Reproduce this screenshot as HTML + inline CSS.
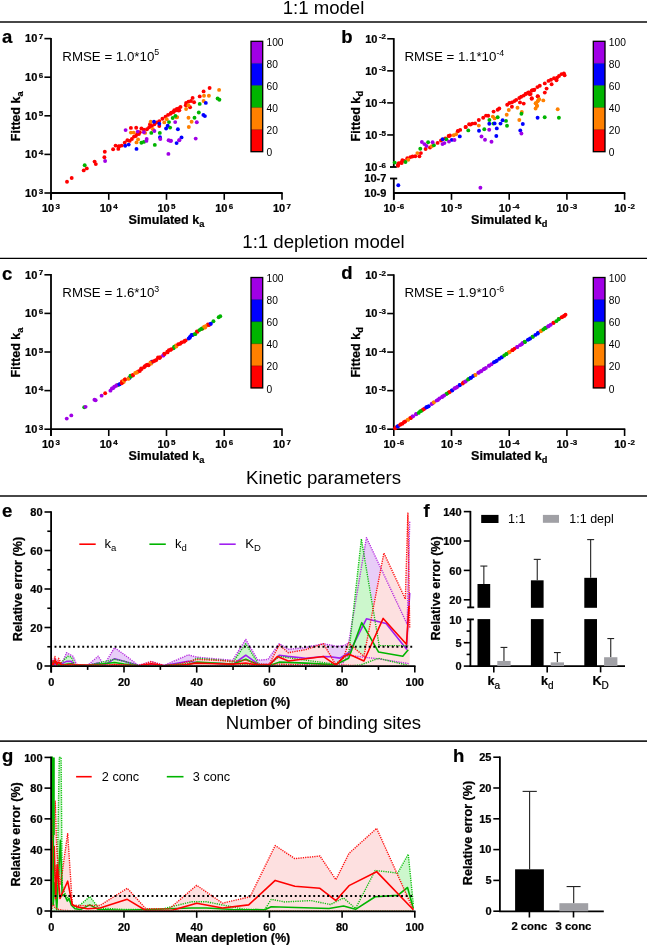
<!DOCTYPE html>
<html><head><meta charset="utf-8"><style>
html,body{margin:0;padding:0;background:#fff;}
svg{display:block;filter:blur(0.4px);}
text[font-weight="bold"]{stroke:#000;stroke-width:0.22px;}
</style></head><body>
<svg width="647" height="945" viewBox="0 0 647 945" font-family="Liberation Sans, sans-serif">
<rect width="647" height="945" fill="#fff"/>
<text x="323.50" y="13.60" font-size="18.6" font-weight="normal" text-anchor="middle" fill="#000" >1:1 model</text>
<line x1="0.00" y1="22.00" x2="647.00" y2="22.00" stroke="#474747" stroke-width="2.0" />
<text x="323.50" y="248.20" font-size="18.6" font-weight="normal" text-anchor="middle" fill="#000" >1:1 depletion model</text>
<line x1="0.00" y1="258.40" x2="647.00" y2="258.40" stroke="#000" stroke-width="1.4" />
<text x="323.50" y="484.10" font-size="18.6" font-weight="normal" text-anchor="middle" fill="#000" >Kinetic parameters</text>
<line x1="0.00" y1="496.00" x2="647.00" y2="496.00" stroke="#474747" stroke-width="2.0" />
<text x="323.50" y="729.10" font-size="18.6" font-weight="normal" text-anchor="middle" fill="#000" >Number of binding sites</text>
<line x1="0.00" y1="741.20" x2="647.00" y2="741.20" stroke="#222" stroke-width="1.7" />
<text x="2.00" y="42.60" font-size="18.5" font-weight="bold" text-anchor="start" fill="#000" >a</text>
<line x1="51.00" y1="37.90" x2="51.00" y2="199.80" stroke="#000" stroke-width="1.8" />
<line x1="50.20" y1="193.00" x2="282.70" y2="193.00" stroke="#000" stroke-width="1.8" />
<line x1="44.40" y1="38.60" x2="51.00" y2="38.60" stroke="#000" stroke-width="1.6" />
<text x="43.20" y="42.40" font-size="11.0" font-weight="bold" text-anchor="end">10<tspan font-size="8.0" dy="-3.2" dx="1.4">7</tspan></text>
<line x1="44.40" y1="77.20" x2="51.00" y2="77.20" stroke="#000" stroke-width="1.6" />
<text x="43.20" y="81.00" font-size="11.0" font-weight="bold" text-anchor="end">10<tspan font-size="8.0" dy="-3.2" dx="1.4">6</tspan></text>
<line x1="44.40" y1="115.80" x2="51.00" y2="115.80" stroke="#000" stroke-width="1.6" />
<text x="43.20" y="119.60" font-size="11.0" font-weight="bold" text-anchor="end">10<tspan font-size="8.0" dy="-3.2" dx="1.4">5</tspan></text>
<line x1="44.40" y1="154.40" x2="51.00" y2="154.40" stroke="#000" stroke-width="1.6" />
<text x="43.20" y="158.20" font-size="11.0" font-weight="bold" text-anchor="end">10<tspan font-size="8.0" dy="-3.2" dx="1.4">4</tspan></text>
<line x1="44.40" y1="193.00" x2="51.00" y2="193.00" stroke="#000" stroke-width="1.6" />
<text x="43.20" y="196.80" font-size="11.0" font-weight="bold" text-anchor="end">10<tspan font-size="8.0" dy="-3.2" dx="1.4">3</tspan></text>
<line x1="51.00" y1="193.00" x2="51.00" y2="199.80" stroke="#000" stroke-width="1.6" />
<text x="51.00" y="212.00" font-size="11.0" font-weight="bold" text-anchor="middle">10<tspan font-size="8.0" dy="-3.2" dx="1.4">3</tspan></text>
<line x1="108.75" y1="193.00" x2="108.75" y2="199.80" stroke="#000" stroke-width="1.6" />
<text x="108.75" y="212.00" font-size="11.0" font-weight="bold" text-anchor="middle">10<tspan font-size="8.0" dy="-3.2" dx="1.4">4</tspan></text>
<line x1="166.50" y1="193.00" x2="166.50" y2="199.80" stroke="#000" stroke-width="1.6" />
<text x="166.50" y="212.00" font-size="11.0" font-weight="bold" text-anchor="middle">10<tspan font-size="8.0" dy="-3.2" dx="1.4">5</tspan></text>
<line x1="224.25" y1="193.00" x2="224.25" y2="199.80" stroke="#000" stroke-width="1.6" />
<text x="224.25" y="212.00" font-size="11.0" font-weight="bold" text-anchor="middle">10<tspan font-size="8.0" dy="-3.2" dx="1.4">6</tspan></text>
<line x1="282.00" y1="193.00" x2="282.00" y2="199.80" stroke="#000" stroke-width="1.6" />
<text x="282.00" y="212.00" font-size="11.0" font-weight="bold" text-anchor="middle">10<tspan font-size="8.0" dy="-3.2" dx="1.4">7</tspan></text>
<text x="166.50" y="223.80" font-size="12.6" font-weight="bold" text-anchor="middle">Simulated k<tspan font-size="9.2" dy="2.8">a</tspan></text>
<text transform="translate(20.3,116.30) rotate(-90)" font-size="12.6" font-weight="bold" text-anchor="middle">Fitted k<tspan font-size="9.2" dy="2.8">a</tspan></text>
<text x="62.3" y="60.70" font-size="13.3">RMSE = 1.0*10<tspan font-size="8.8" dy="-5.3">5</tspan></text>
<rect x="251.00" y="41.30" width="11.70" height="22.38" fill="#a000e6" />
<rect x="251.00" y="63.38" width="11.70" height="22.38" fill="#0000ff" />
<rect x="251.00" y="85.46" width="11.70" height="22.38" fill="#00b400" />
<rect x="251.00" y="107.54" width="11.70" height="22.38" fill="#ff8000" />
<rect x="251.00" y="129.62" width="11.70" height="22.38" fill="#ff0000" />
<line x1="251.00" y1="63.38" x2="262.70" y2="63.38" stroke="#000" stroke-width="0.7" stroke-opacity="0.35"/>
<line x1="251.00" y1="85.46" x2="262.70" y2="85.46" stroke="#000" stroke-width="0.7" stroke-opacity="0.35"/>
<line x1="251.00" y1="107.54" x2="262.70" y2="107.54" stroke="#000" stroke-width="0.7" stroke-opacity="0.35"/>
<line x1="251.00" y1="129.62" x2="262.70" y2="129.62" stroke="#000" stroke-width="0.7" stroke-opacity="0.35"/>
<rect x="251.00" y="41.30" width="11.7" height="110.40" fill="none" stroke="#000" stroke-width="1.3"/>
<text transform="translate(266.50,45.90) scale(0.93,1)" font-size="11">100</text>
<text transform="translate(266.50,67.98) scale(0.93,1)" font-size="11">80</text>
<text transform="translate(266.50,90.06) scale(0.93,1)" font-size="11">60</text>
<text transform="translate(266.50,112.14) scale(0.93,1)" font-size="11">40</text>
<text transform="translate(266.50,134.22) scale(0.93,1)" font-size="11">20</text>
<text transform="translate(266.50,156.30) scale(0.93,1)" font-size="11">0</text>
<text x="2.00" y="279.70" font-size="18.5" font-weight="bold" text-anchor="start" fill="#000" >c</text>
<line x1="51.00" y1="274.10" x2="51.00" y2="436.00" stroke="#000" stroke-width="1.8" />
<line x1="50.20" y1="429.20" x2="282.70" y2="429.20" stroke="#000" stroke-width="1.8" />
<line x1="44.40" y1="274.80" x2="51.00" y2="274.80" stroke="#000" stroke-width="1.6" />
<text x="43.20" y="278.60" font-size="11.0" font-weight="bold" text-anchor="end">10<tspan font-size="8.0" dy="-3.2" dx="1.4">7</tspan></text>
<line x1="44.40" y1="313.40" x2="51.00" y2="313.40" stroke="#000" stroke-width="1.6" />
<text x="43.20" y="317.20" font-size="11.0" font-weight="bold" text-anchor="end">10<tspan font-size="8.0" dy="-3.2" dx="1.4">6</tspan></text>
<line x1="44.40" y1="352.00" x2="51.00" y2="352.00" stroke="#000" stroke-width="1.6" />
<text x="43.20" y="355.80" font-size="11.0" font-weight="bold" text-anchor="end">10<tspan font-size="8.0" dy="-3.2" dx="1.4">5</tspan></text>
<line x1="44.40" y1="390.60" x2="51.00" y2="390.60" stroke="#000" stroke-width="1.6" />
<text x="43.20" y="394.40" font-size="11.0" font-weight="bold" text-anchor="end">10<tspan font-size="8.0" dy="-3.2" dx="1.4">4</tspan></text>
<line x1="44.40" y1="429.20" x2="51.00" y2="429.20" stroke="#000" stroke-width="1.6" />
<text x="43.20" y="433.00" font-size="11.0" font-weight="bold" text-anchor="end">10<tspan font-size="8.0" dy="-3.2" dx="1.4">3</tspan></text>
<line x1="51.00" y1="429.20" x2="51.00" y2="436.00" stroke="#000" stroke-width="1.6" />
<text x="51.00" y="448.20" font-size="11.0" font-weight="bold" text-anchor="middle">10<tspan font-size="8.0" dy="-3.2" dx="1.4">3</tspan></text>
<line x1="108.75" y1="429.20" x2="108.75" y2="436.00" stroke="#000" stroke-width="1.6" />
<text x="108.75" y="448.20" font-size="11.0" font-weight="bold" text-anchor="middle">10<tspan font-size="8.0" dy="-3.2" dx="1.4">4</tspan></text>
<line x1="166.50" y1="429.20" x2="166.50" y2="436.00" stroke="#000" stroke-width="1.6" />
<text x="166.50" y="448.20" font-size="11.0" font-weight="bold" text-anchor="middle">10<tspan font-size="8.0" dy="-3.2" dx="1.4">5</tspan></text>
<line x1="224.25" y1="429.20" x2="224.25" y2="436.00" stroke="#000" stroke-width="1.6" />
<text x="224.25" y="448.20" font-size="11.0" font-weight="bold" text-anchor="middle">10<tspan font-size="8.0" dy="-3.2" dx="1.4">6</tspan></text>
<line x1="282.00" y1="429.20" x2="282.00" y2="436.00" stroke="#000" stroke-width="1.6" />
<text x="282.00" y="448.20" font-size="11.0" font-weight="bold" text-anchor="middle">10<tspan font-size="8.0" dy="-3.2" dx="1.4">7</tspan></text>
<text x="166.50" y="460.00" font-size="12.6" font-weight="bold" text-anchor="middle">Simulated k<tspan font-size="9.2" dy="2.8">a</tspan></text>
<text transform="translate(20.3,352.50) rotate(-90)" font-size="12.6" font-weight="bold" text-anchor="middle">Fitted k<tspan font-size="9.2" dy="2.8">a</tspan></text>
<text x="62.3" y="296.90" font-size="13.3">RMSE = 1.6*10<tspan font-size="8.8" dy="-5.3">3</tspan></text>
<rect x="251.00" y="277.50" width="11.70" height="22.38" fill="#a000e6" />
<rect x="251.00" y="299.58" width="11.70" height="22.38" fill="#0000ff" />
<rect x="251.00" y="321.66" width="11.70" height="22.38" fill="#00b400" />
<rect x="251.00" y="343.74" width="11.70" height="22.38" fill="#ff8000" />
<rect x="251.00" y="365.82" width="11.70" height="22.38" fill="#ff0000" />
<line x1="251.00" y1="299.58" x2="262.70" y2="299.58" stroke="#000" stroke-width="0.7" stroke-opacity="0.35"/>
<line x1="251.00" y1="321.66" x2="262.70" y2="321.66" stroke="#000" stroke-width="0.7" stroke-opacity="0.35"/>
<line x1="251.00" y1="343.74" x2="262.70" y2="343.74" stroke="#000" stroke-width="0.7" stroke-opacity="0.35"/>
<line x1="251.00" y1="365.82" x2="262.70" y2="365.82" stroke="#000" stroke-width="0.7" stroke-opacity="0.35"/>
<rect x="251.00" y="277.50" width="11.7" height="110.40" fill="none" stroke="#000" stroke-width="1.3"/>
<text transform="translate(266.50,282.10) scale(0.93,1)" font-size="11">100</text>
<text transform="translate(266.50,304.18) scale(0.93,1)" font-size="11">80</text>
<text transform="translate(266.50,326.26) scale(0.93,1)" font-size="11">60</text>
<text transform="translate(266.50,348.34) scale(0.93,1)" font-size="11">40</text>
<text transform="translate(266.50,370.42) scale(0.93,1)" font-size="11">20</text>
<text transform="translate(266.50,392.50) scale(0.93,1)" font-size="11">0</text>
<text x="341.30" y="42.90" font-size="18.5" font-weight="bold" text-anchor="start" fill="#000" >b</text>
<line x1="393.80" y1="38.10" x2="393.80" y2="167.00" stroke="#000" stroke-width="1.8" />
<line x1="390.00" y1="167.00" x2="396.80" y2="167.00" stroke="#000" stroke-width="1.8" />
<line x1="393.80" y1="178.50" x2="393.80" y2="199.80" stroke="#000" stroke-width="1.8" />
<line x1="390.00" y1="178.50" x2="397.20" y2="178.50" stroke="#000" stroke-width="1.8" />
<line x1="393.80" y1="193.00" x2="625.30" y2="193.00" stroke="#000" stroke-width="1.8" />
<line x1="387.20" y1="38.80" x2="393.80" y2="38.80" stroke="#000" stroke-width="1.6" />
<text x="386.00" y="42.60" font-size="11.0" font-weight="bold" text-anchor="end">10<tspan font-size="8.0" dy="-3.2" dx="1.4">-2</tspan></text>
<line x1="387.20" y1="70.85" x2="393.80" y2="70.85" stroke="#000" stroke-width="1.6" />
<text x="386.00" y="74.65" font-size="11.0" font-weight="bold" text-anchor="end">10<tspan font-size="8.0" dy="-3.2" dx="1.4">-3</tspan></text>
<line x1="387.20" y1="102.90" x2="393.80" y2="102.90" stroke="#000" stroke-width="1.6" />
<text x="386.00" y="106.70" font-size="11.0" font-weight="bold" text-anchor="end">10<tspan font-size="8.0" dy="-3.2" dx="1.4">-4</tspan></text>
<line x1="387.20" y1="134.95" x2="393.80" y2="134.95" stroke="#000" stroke-width="1.6" />
<text x="386.00" y="138.75" font-size="11.0" font-weight="bold" text-anchor="end">10<tspan font-size="8.0" dy="-3.2" dx="1.4">-5</tspan></text>
<text x="386.00" y="170.80" font-size="11.0" font-weight="bold" text-anchor="end">10<tspan font-size="8.0" dy="-3.2" dx="1.4">-6</tspan></text>
<text x="386.40" y="182.20" font-size="11.0" font-weight="bold" text-anchor="end" fill="#000" >10-7</text>
<text x="386.40" y="196.90" font-size="11.0" font-weight="bold" text-anchor="end" fill="#000" >10-9</text>
<line x1="393.80" y1="193.00" x2="393.80" y2="199.80" stroke="#000" stroke-width="1.6" />
<text x="393.80" y="212.00" font-size="11.0" font-weight="bold" text-anchor="middle">10<tspan font-size="8.0" dy="-3.2" dx="1.4">-6</tspan></text>
<line x1="451.50" y1="193.00" x2="451.50" y2="199.80" stroke="#000" stroke-width="1.6" />
<text x="451.50" y="212.00" font-size="11.0" font-weight="bold" text-anchor="middle">10<tspan font-size="8.0" dy="-3.2" dx="1.4">-5</tspan></text>
<line x1="509.20" y1="193.00" x2="509.20" y2="199.80" stroke="#000" stroke-width="1.6" />
<text x="509.20" y="212.00" font-size="11.0" font-weight="bold" text-anchor="middle">10<tspan font-size="8.0" dy="-3.2" dx="1.4">-4</tspan></text>
<line x1="566.90" y1="193.00" x2="566.90" y2="199.80" stroke="#000" stroke-width="1.6" />
<text x="566.90" y="212.00" font-size="11.0" font-weight="bold" text-anchor="middle">10<tspan font-size="8.0" dy="-3.2" dx="1.4">-3</tspan></text>
<line x1="624.60" y1="193.00" x2="624.60" y2="199.80" stroke="#000" stroke-width="1.6" />
<text x="624.60" y="212.00" font-size="11.0" font-weight="bold" text-anchor="middle">10<tspan font-size="8.0" dy="-3.2" dx="1.4">-2</tspan></text>
<text x="509.20" y="223.80" font-size="12.6" font-weight="bold" text-anchor="middle">Simulated k<tspan font-size="9.2" dy="2.8">d</tspan></text>
<text transform="translate(360.3,116.20) rotate(-90)" font-size="12.6" font-weight="bold" text-anchor="middle">Fitted k<tspan font-size="9.2" dy="2.8">d</tspan></text>
<text x="404.4" y="60.80" font-size="13.3">RMSE = 1.1*10<tspan font-size="8.8" dy="-5.3">-4</tspan></text>
<rect x="593.30" y="41.30" width="11.70" height="22.38" fill="#a000e6" />
<rect x="593.30" y="63.38" width="11.70" height="22.38" fill="#0000ff" />
<rect x="593.30" y="85.46" width="11.70" height="22.38" fill="#00b400" />
<rect x="593.30" y="107.54" width="11.70" height="22.38" fill="#ff8000" />
<rect x="593.30" y="129.62" width="11.70" height="22.38" fill="#ff0000" />
<line x1="593.30" y1="63.38" x2="605.00" y2="63.38" stroke="#000" stroke-width="0.7" stroke-opacity="0.35"/>
<line x1="593.30" y1="85.46" x2="605.00" y2="85.46" stroke="#000" stroke-width="0.7" stroke-opacity="0.35"/>
<line x1="593.30" y1="107.54" x2="605.00" y2="107.54" stroke="#000" stroke-width="0.7" stroke-opacity="0.35"/>
<line x1="593.30" y1="129.62" x2="605.00" y2="129.62" stroke="#000" stroke-width="0.7" stroke-opacity="0.35"/>
<rect x="593.30" y="41.30" width="11.7" height="110.40" fill="none" stroke="#000" stroke-width="1.3"/>
<text transform="translate(608.80,45.90) scale(0.93,1)" font-size="11">100</text>
<text transform="translate(608.80,67.98) scale(0.93,1)" font-size="11">80</text>
<text transform="translate(608.80,90.06) scale(0.93,1)" font-size="11">60</text>
<text transform="translate(608.80,112.14) scale(0.93,1)" font-size="11">40</text>
<text transform="translate(608.80,134.22) scale(0.93,1)" font-size="11">20</text>
<text transform="translate(608.80,156.30) scale(0.93,1)" font-size="11">0</text>
<text x="341.30" y="279.10" font-size="18.5" font-weight="bold" text-anchor="start" fill="#000" >d</text>
<line x1="393.80" y1="274.30" x2="393.80" y2="430.00" stroke="#000" stroke-width="1.8" />
<line x1="393.00" y1="429.20" x2="625.30" y2="429.20" stroke="#000" stroke-width="1.8" />
<line x1="387.20" y1="275.00" x2="393.80" y2="275.00" stroke="#000" stroke-width="1.6" />
<text x="386.00" y="278.80" font-size="11.0" font-weight="bold" text-anchor="end">10<tspan font-size="8.0" dy="-3.2" dx="1.4">-2</tspan></text>
<line x1="387.20" y1="313.55" x2="393.80" y2="313.55" stroke="#000" stroke-width="1.6" />
<text x="386.00" y="317.35" font-size="11.0" font-weight="bold" text-anchor="end">10<tspan font-size="8.0" dy="-3.2" dx="1.4">-3</tspan></text>
<line x1="387.20" y1="352.10" x2="393.80" y2="352.10" stroke="#000" stroke-width="1.6" />
<text x="386.00" y="355.90" font-size="11.0" font-weight="bold" text-anchor="end">10<tspan font-size="8.0" dy="-3.2" dx="1.4">-4</tspan></text>
<line x1="387.20" y1="390.65" x2="393.80" y2="390.65" stroke="#000" stroke-width="1.6" />
<text x="386.00" y="394.45" font-size="11.0" font-weight="bold" text-anchor="end">10<tspan font-size="8.0" dy="-3.2" dx="1.4">-5</tspan></text>
<line x1="387.20" y1="429.20" x2="393.80" y2="429.20" stroke="#000" stroke-width="1.6" />
<text x="386.00" y="433.00" font-size="11.0" font-weight="bold" text-anchor="end">10<tspan font-size="8.0" dy="-3.2" dx="1.4">-6</tspan></text>
<line x1="393.80" y1="429.20" x2="393.80" y2="436.00" stroke="#000" stroke-width="1.6" />
<text x="393.80" y="448.20" font-size="11.0" font-weight="bold" text-anchor="middle">10<tspan font-size="8.0" dy="-3.2" dx="1.4">-6</tspan></text>
<line x1="451.50" y1="429.20" x2="451.50" y2="436.00" stroke="#000" stroke-width="1.6" />
<text x="451.50" y="448.20" font-size="11.0" font-weight="bold" text-anchor="middle">10<tspan font-size="8.0" dy="-3.2" dx="1.4">-5</tspan></text>
<line x1="509.20" y1="429.20" x2="509.20" y2="436.00" stroke="#000" stroke-width="1.6" />
<text x="509.20" y="448.20" font-size="11.0" font-weight="bold" text-anchor="middle">10<tspan font-size="8.0" dy="-3.2" dx="1.4">-4</tspan></text>
<line x1="566.90" y1="429.20" x2="566.90" y2="436.00" stroke="#000" stroke-width="1.6" />
<text x="566.90" y="448.20" font-size="11.0" font-weight="bold" text-anchor="middle">10<tspan font-size="8.0" dy="-3.2" dx="1.4">-3</tspan></text>
<line x1="624.60" y1="429.20" x2="624.60" y2="436.00" stroke="#000" stroke-width="1.6" />
<text x="624.60" y="448.20" font-size="11.0" font-weight="bold" text-anchor="middle">10<tspan font-size="8.0" dy="-3.2" dx="1.4">-2</tspan></text>
<text x="509.20" y="460.00" font-size="12.6" font-weight="bold" text-anchor="middle">Simulated k<tspan font-size="9.2" dy="2.8">d</tspan></text>
<text transform="translate(360.3,352.40) rotate(-90)" font-size="12.6" font-weight="bold" text-anchor="middle">Fitted k<tspan font-size="9.2" dy="2.8">d</tspan></text>
<text x="404.4" y="297.00" font-size="13.3">RMSE = 1.9*10<tspan font-size="8.8" dy="-5.3">-6</tspan></text>
<rect x="593.30" y="277.50" width="11.70" height="22.38" fill="#a000e6" />
<rect x="593.30" y="299.58" width="11.70" height="22.38" fill="#0000ff" />
<rect x="593.30" y="321.66" width="11.70" height="22.38" fill="#00b400" />
<rect x="593.30" y="343.74" width="11.70" height="22.38" fill="#ff8000" />
<rect x="593.30" y="365.82" width="11.70" height="22.38" fill="#ff0000" />
<line x1="593.30" y1="299.58" x2="605.00" y2="299.58" stroke="#000" stroke-width="0.7" stroke-opacity="0.35"/>
<line x1="593.30" y1="321.66" x2="605.00" y2="321.66" stroke="#000" stroke-width="0.7" stroke-opacity="0.35"/>
<line x1="593.30" y1="343.74" x2="605.00" y2="343.74" stroke="#000" stroke-width="0.7" stroke-opacity="0.35"/>
<line x1="593.30" y1="365.82" x2="605.00" y2="365.82" stroke="#000" stroke-width="0.7" stroke-opacity="0.35"/>
<rect x="593.30" y="277.50" width="11.7" height="110.40" fill="none" stroke="#000" stroke-width="1.3"/>
<text transform="translate(608.80,282.10) scale(0.93,1)" font-size="11">100</text>
<text transform="translate(608.80,304.18) scale(0.93,1)" font-size="11">80</text>
<text transform="translate(608.80,326.26) scale(0.93,1)" font-size="11">60</text>
<text transform="translate(608.80,348.34) scale(0.93,1)" font-size="11">40</text>
<text transform="translate(608.80,370.42) scale(0.93,1)" font-size="11">20</text>
<text transform="translate(608.80,392.50) scale(0.93,1)" font-size="11">0</text>
<circle cx="67.00" cy="181.80" r="1.95" fill="#ff0000"/>
<circle cx="71.70" cy="178.00" r="1.95" fill="#ff0000"/>
<circle cx="86.80" cy="168.40" r="1.95" fill="#ff0000"/>
<circle cx="83.70" cy="170.40" r="1.95" fill="#ff0000"/>
<circle cx="94.60" cy="161.60" r="1.95" fill="#ff0000"/>
<circle cx="95.80" cy="164.10" r="1.95" fill="#ff0000"/>
<circle cx="104.80" cy="151.70" r="1.95" fill="#ff0000"/>
<circle cx="104.40" cy="157.30" r="1.95" fill="#ff0000"/>
<circle cx="113.10" cy="149.30" r="1.95" fill="#ff0000"/>
<circle cx="115.60" cy="145.60" r="1.95" fill="#ff0000"/>
<circle cx="118.30" cy="148.90" r="1.95" fill="#ff0000"/>
<circle cx="119.30" cy="146.20" r="1.95" fill="#ff0000"/>
<circle cx="121.70" cy="145.60" r="1.95" fill="#ff0000"/>
<circle cx="118.50" cy="146.50" r="1.95" fill="#ff0000"/>
<circle cx="124.70" cy="142.80" r="1.95" fill="#ff0000"/>
<circle cx="127.40" cy="140.30" r="1.95" fill="#ff0000"/>
<circle cx="129.70" cy="140.90" r="1.95" fill="#ff0000"/>
<circle cx="131.90" cy="139.00" r="1.95" fill="#ff0000"/>
<circle cx="134.00" cy="136.60" r="1.95" fill="#ff0000"/>
<circle cx="135.80" cy="136.00" r="1.95" fill="#ff0000"/>
<circle cx="137.10" cy="134.10" r="1.95" fill="#ff0000"/>
<circle cx="138.90" cy="134.10" r="1.95" fill="#ff0000"/>
<circle cx="139.80" cy="132.20" r="1.95" fill="#ff0000"/>
<circle cx="141.40" cy="128.50" r="1.95" fill="#ff0000"/>
<circle cx="143.90" cy="129.80" r="1.95" fill="#ff0000"/>
<circle cx="147.00" cy="129.20" r="1.95" fill="#ff0000"/>
<circle cx="149.20" cy="127.30" r="1.95" fill="#ff0000"/>
<circle cx="150.00" cy="124.20" r="1.95" fill="#ff0000"/>
<circle cx="151.90" cy="126.10" r="1.95" fill="#ff0000"/>
<circle cx="154.40" cy="124.20" r="1.95" fill="#ff0000"/>
<circle cx="156.90" cy="122.40" r="1.95" fill="#ff0000"/>
<circle cx="159.30" cy="121.10" r="1.95" fill="#ff0000"/>
<circle cx="162.40" cy="118.70" r="1.95" fill="#ff0000"/>
<circle cx="165.50" cy="116.80" r="1.95" fill="#ff0000"/>
<circle cx="168.00" cy="114.90" r="1.95" fill="#ff0000"/>
<circle cx="170.50" cy="113.70" r="1.95" fill="#ff0000"/>
<circle cx="173.50" cy="111.90" r="1.95" fill="#ff0000"/>
<circle cx="175.40" cy="110.60" r="1.95" fill="#ff0000"/>
<circle cx="178.50" cy="110.60" r="1.95" fill="#ff0000"/>
<circle cx="130.90" cy="127.90" r="1.95" fill="#ff0000"/>
<circle cx="136.20" cy="127.70" r="1.95" fill="#ff0000"/>
<circle cx="159.30" cy="126.10" r="1.95" fill="#ff0000"/>
<circle cx="209.60" cy="88.00" r="1.95" fill="#ff0000"/>
<circle cx="203.60" cy="91.40" r="1.95" fill="#ff0000"/>
<circle cx="199.70" cy="96.40" r="1.95" fill="#ff0000"/>
<circle cx="192.60" cy="97.90" r="1.95" fill="#ff0000"/>
<circle cx="194.10" cy="102.20" r="1.95" fill="#ff0000"/>
<circle cx="191.00" cy="101.00" r="1.95" fill="#ff0000"/>
<circle cx="188.50" cy="101.60" r="1.95" fill="#ff0000"/>
<circle cx="186.10" cy="102.90" r="1.95" fill="#ff0000"/>
<circle cx="185.80" cy="105.30" r="1.95" fill="#ff0000"/>
<circle cx="190.10" cy="107.20" r="1.95" fill="#ff0000"/>
<circle cx="180.50" cy="106.90" r="1.95" fill="#ff0000"/>
<circle cx="178.70" cy="108.40" r="1.95" fill="#ff0000"/>
<circle cx="179.30" cy="110.30" r="1.95" fill="#ff0000"/>
<circle cx="176.80" cy="109.00" r="1.95" fill="#ff0000"/>
<circle cx="174.30" cy="110.30" r="1.95" fill="#ff0000"/>
<circle cx="173.10" cy="112.10" r="1.95" fill="#ff0000"/>
<circle cx="171.20" cy="112.80" r="1.95" fill="#ff0000"/>
<circle cx="130.90" cy="132.60" r="1.95" fill="#ff8000"/>
<circle cx="133.60" cy="132.60" r="1.95" fill="#ff8000"/>
<circle cx="136.50" cy="142.40" r="1.95" fill="#ff8000"/>
<circle cx="138.10" cy="139.40" r="1.95" fill="#ff8000"/>
<circle cx="150.70" cy="121.70" r="1.95" fill="#ff8000"/>
<circle cx="152.90" cy="129.20" r="1.95" fill="#ff8000"/>
<circle cx="164.30" cy="122.40" r="1.95" fill="#ff8000"/>
<circle cx="166.70" cy="119.30" r="1.95" fill="#ff8000"/>
<circle cx="176.60" cy="117.40" r="1.95" fill="#ff8000"/>
<circle cx="145.10" cy="132.90" r="1.95" fill="#ff8000"/>
<circle cx="219.10" cy="89.90" r="1.95" fill="#ff8000"/>
<circle cx="204.00" cy="95.80" r="1.95" fill="#ff8000"/>
<circle cx="208.90" cy="95.80" r="1.95" fill="#ff8000"/>
<circle cx="203.60" cy="101.00" r="1.95" fill="#ff8000"/>
<circle cx="188.50" cy="105.30" r="1.95" fill="#ff8000"/>
<circle cx="186.10" cy="109.00" r="1.95" fill="#ff8000"/>
<circle cx="177.20" cy="117.10" r="1.95" fill="#ff8000"/>
<circle cx="188.50" cy="117.70" r="1.95" fill="#ff8000"/>
<circle cx="191.60" cy="121.70" r="1.95" fill="#ff8000"/>
<circle cx="188.80" cy="127.00" r="1.95" fill="#ff8000"/>
<circle cx="84.70" cy="165.30" r="1.95" fill="#00b400"/>
<circle cx="141.40" cy="142.80" r="1.95" fill="#00b400"/>
<circle cx="143.90" cy="141.90" r="1.95" fill="#00b400"/>
<circle cx="151.30" cy="132.90" r="1.95" fill="#00b400"/>
<circle cx="154.80" cy="144.90" r="1.95" fill="#00b400"/>
<circle cx="159.80" cy="132.90" r="1.95" fill="#00b400"/>
<circle cx="169.00" cy="122.10" r="1.95" fill="#00b400"/>
<circle cx="170.10" cy="127.60" r="1.95" fill="#00b400"/>
<circle cx="172.70" cy="118.00" r="1.95" fill="#00b400"/>
<circle cx="175.40" cy="115.90" r="1.95" fill="#00b400"/>
<circle cx="217.60" cy="98.50" r="1.95" fill="#00b400"/>
<circle cx="219.40" cy="99.80" r="1.95" fill="#00b400"/>
<circle cx="199.70" cy="103.90" r="1.95" fill="#00b400"/>
<circle cx="198.80" cy="112.50" r="1.95" fill="#00b400"/>
<circle cx="194.50" cy="117.70" r="1.95" fill="#00b400"/>
<circle cx="125.20" cy="145.80" r="1.95" fill="#0000ff"/>
<circle cx="128.70" cy="144.60" r="1.95" fill="#0000ff"/>
<circle cx="136.50" cy="148.90" r="1.95" fill="#0000ff"/>
<circle cx="154.00" cy="121.70" r="1.95" fill="#0000ff"/>
<circle cx="159.30" cy="123.80" r="1.95" fill="#0000ff"/>
<circle cx="160.00" cy="137.20" r="1.95" fill="#0000ff"/>
<circle cx="166.10" cy="128.50" r="1.95" fill="#0000ff"/>
<circle cx="167.70" cy="125.80" r="1.95" fill="#0000ff"/>
<circle cx="176.60" cy="143.10" r="1.95" fill="#0000ff"/>
<circle cx="177.90" cy="129.20" r="1.95" fill="#0000ff"/>
<circle cx="205.80" cy="102.90" r="1.95" fill="#0000ff"/>
<circle cx="203.40" cy="114.90" r="1.95" fill="#0000ff"/>
<circle cx="204.90" cy="116.10" r="1.95" fill="#0000ff"/>
<circle cx="181.50" cy="137.40" r="1.95" fill="#0000ff"/>
<circle cx="105.10" cy="161.00" r="1.95" fill="#a000e6"/>
<circle cx="125.60" cy="130.10" r="1.95" fill="#a000e6"/>
<circle cx="137.70" cy="131.60" r="1.95" fill="#a000e6"/>
<circle cx="143.90" cy="132.20" r="1.95" fill="#a000e6"/>
<circle cx="154.40" cy="131.00" r="1.95" fill="#a000e6"/>
<circle cx="146.70" cy="139.00" r="1.95" fill="#a000e6"/>
<circle cx="146.40" cy="140.90" r="1.95" fill="#a000e6"/>
<circle cx="160.30" cy="139.00" r="1.95" fill="#a000e6"/>
<circle cx="168.60" cy="140.30" r="1.95" fill="#a000e6"/>
<circle cx="170.50" cy="140.90" r="1.95" fill="#a000e6"/>
<circle cx="175.20" cy="122.10" r="1.95" fill="#a000e6"/>
<circle cx="179.10" cy="140.30" r="1.95" fill="#a000e6"/>
<circle cx="168.40" cy="153.90" r="1.95" fill="#a000e6"/>
<circle cx="196.80" cy="122.30" r="1.95" fill="#a000e6"/>
<circle cx="171.00" cy="140.80" r="1.95" fill="#a000e6"/>
<circle cx="179.50" cy="140.10" r="1.95" fill="#a000e6"/>
<circle cx="195.70" cy="138.60" r="1.95" fill="#a000e6"/>
<circle cx="398.00" cy="165.70" r="1.95" fill="#ff0000"/>
<circle cx="398.70" cy="163.30" r="1.95" fill="#ff0000"/>
<circle cx="401.10" cy="162.60" r="1.95" fill="#ff0000"/>
<circle cx="402.40" cy="160.20" r="1.95" fill="#ff0000"/>
<circle cx="407.30" cy="158.30" r="1.95" fill="#ff0000"/>
<circle cx="410.40" cy="157.10" r="1.95" fill="#ff0000"/>
<circle cx="415.30" cy="156.20" r="1.95" fill="#ff0000"/>
<circle cx="419.40" cy="156.20" r="1.95" fill="#ff0000"/>
<circle cx="420.90" cy="153.10" r="1.95" fill="#ff0000"/>
<circle cx="425.60" cy="149.00" r="1.95" fill="#ff0000"/>
<circle cx="437.60" cy="142.90" r="1.95" fill="#ff0000"/>
<circle cx="445.30" cy="138.50" r="1.95" fill="#ff0000"/>
<circle cx="448.70" cy="136.10" r="1.95" fill="#ff0000"/>
<circle cx="450.00" cy="135.50" r="1.95" fill="#ff0000"/>
<circle cx="457.70" cy="131.40" r="1.95" fill="#ff0000"/>
<circle cx="460.20" cy="129.90" r="1.95" fill="#ff0000"/>
<circle cx="465.60" cy="127.00" r="1.95" fill="#ff0000"/>
<circle cx="469.10" cy="124.30" r="1.95" fill="#ff0000"/>
<circle cx="470.50" cy="124.60" r="1.95" fill="#ff0000"/>
<circle cx="472.40" cy="123.60" r="1.95" fill="#ff0000"/>
<circle cx="475.10" cy="123.40" r="1.95" fill="#ff0000"/>
<circle cx="478.80" cy="120.00" r="1.95" fill="#ff0000"/>
<circle cx="483.20" cy="117.80" r="1.95" fill="#ff0000"/>
<circle cx="486.00" cy="115.60" r="1.95" fill="#ff0000"/>
<circle cx="488.20" cy="115.70" r="1.95" fill="#ff0000"/>
<circle cx="493.60" cy="111.60" r="1.95" fill="#ff0000"/>
<circle cx="497.70" cy="109.80" r="1.95" fill="#ff0000"/>
<circle cx="499.30" cy="108.50" r="1.95" fill="#ff0000"/>
<circle cx="507.20" cy="104.80" r="1.95" fill="#ff0000"/>
<circle cx="509.40" cy="103.00" r="1.95" fill="#ff0000"/>
<circle cx="511.90" cy="102.40" r="1.95" fill="#ff0000"/>
<circle cx="511.90" cy="106.70" r="1.95" fill="#ff0000"/>
<circle cx="514.40" cy="101.10" r="1.95" fill="#ff0000"/>
<circle cx="516.20" cy="99.90" r="1.95" fill="#ff0000"/>
<circle cx="519.30" cy="98.00" r="1.95" fill="#ff0000"/>
<circle cx="521.20" cy="96.80" r="1.95" fill="#ff0000"/>
<circle cx="523.70" cy="95.60" r="1.95" fill="#ff0000"/>
<circle cx="526.10" cy="93.70" r="1.95" fill="#ff0000"/>
<circle cx="528.60" cy="92.50" r="1.95" fill="#ff0000"/>
<circle cx="531.70" cy="90.60" r="1.95" fill="#ff0000"/>
<circle cx="534.20" cy="90.00" r="1.95" fill="#ff0000"/>
<circle cx="529.80" cy="94.30" r="1.95" fill="#ff0000"/>
<circle cx="531.70" cy="98.70" r="1.95" fill="#ff0000"/>
<circle cx="520.00" cy="102.40" r="1.95" fill="#ff0000"/>
<circle cx="523.70" cy="103.60" r="1.95" fill="#ff0000"/>
<circle cx="537.60" cy="96.20" r="1.95" fill="#ff0000"/>
<circle cx="525.60" cy="93.90" r="1.95" fill="#ff0000"/>
<circle cx="528.10" cy="92.60" r="1.95" fill="#ff0000"/>
<circle cx="530.60" cy="93.90" r="1.95" fill="#ff0000"/>
<circle cx="532.40" cy="90.20" r="1.95" fill="#ff0000"/>
<circle cx="534.30" cy="89.60" r="1.95" fill="#ff0000"/>
<circle cx="537.40" cy="87.10" r="1.95" fill="#ff0000"/>
<circle cx="539.80" cy="85.80" r="1.95" fill="#ff0000"/>
<circle cx="544.80" cy="83.40" r="1.95" fill="#ff0000"/>
<circle cx="546.60" cy="88.60" r="1.95" fill="#ff0000"/>
<circle cx="544.80" cy="92.60" r="1.95" fill="#ff0000"/>
<circle cx="548.50" cy="80.90" r="1.95" fill="#ff0000"/>
<circle cx="551.00" cy="79.70" r="1.95" fill="#ff0000"/>
<circle cx="551.60" cy="84.20" r="1.95" fill="#ff0000"/>
<circle cx="554.00" cy="78.20" r="1.95" fill="#ff0000"/>
<circle cx="556.50" cy="80.30" r="1.95" fill="#ff0000"/>
<circle cx="557.10" cy="77.80" r="1.95" fill="#ff0000"/>
<circle cx="559.00" cy="76.00" r="1.95" fill="#ff0000"/>
<circle cx="561.50" cy="74.10" r="1.95" fill="#ff0000"/>
<circle cx="563.90" cy="73.50" r="1.95" fill="#ff0000"/>
<circle cx="564.60" cy="75.30" r="1.95" fill="#ff0000"/>
<circle cx="531.80" cy="98.20" r="1.95" fill="#ff0000"/>
<circle cx="538.00" cy="96.40" r="1.95" fill="#ff0000"/>
<circle cx="448.70" cy="135.90" r="1.95" fill="#ff0000"/>
<circle cx="457.90" cy="130.90" r="1.95" fill="#ff0000"/>
<circle cx="465.70" cy="127.10" r="1.95" fill="#ff0000"/>
<circle cx="397.90" cy="165.00" r="1.95" fill="#ff0000"/>
<circle cx="401.70" cy="163.10" r="1.95" fill="#ff0000"/>
<circle cx="404.50" cy="161.00" r="1.95" fill="#ff0000"/>
<circle cx="412.50" cy="156.50" r="1.95" fill="#ff0000"/>
<circle cx="430.00" cy="147.50" r="1.95" fill="#ff0000"/>
<circle cx="441.00" cy="140.50" r="1.95" fill="#ff0000"/>
<circle cx="408.30" cy="159.80" r="1.95" fill="#ff8000"/>
<circle cx="417.40" cy="153.10" r="1.95" fill="#ff8000"/>
<circle cx="431.80" cy="146.30" r="1.95" fill="#ff8000"/>
<circle cx="453.70" cy="135.20" r="1.95" fill="#ff8000"/>
<circle cx="456.10" cy="134.20" r="1.95" fill="#ff8000"/>
<circle cx="478.80" cy="125.60" r="1.95" fill="#ff8000"/>
<circle cx="492.80" cy="116.60" r="1.95" fill="#ff8000"/>
<circle cx="494.60" cy="118.40" r="1.95" fill="#ff8000"/>
<circle cx="506.70" cy="114.70" r="1.95" fill="#ff8000"/>
<circle cx="508.80" cy="110.00" r="1.95" fill="#ff8000"/>
<circle cx="517.50" cy="107.70" r="1.95" fill="#ff8000"/>
<circle cx="519.30" cy="120.00" r="1.95" fill="#ff8000"/>
<circle cx="521.80" cy="112.00" r="1.95" fill="#ff8000"/>
<circle cx="535.60" cy="103.30" r="1.95" fill="#ff8000"/>
<circle cx="535.60" cy="108.50" r="1.95" fill="#ff8000"/>
<circle cx="536.90" cy="106.10" r="1.95" fill="#ff8000"/>
<circle cx="538.50" cy="99.90" r="1.95" fill="#ff8000"/>
<circle cx="539.20" cy="99.20" r="1.95" fill="#ff8000"/>
<circle cx="543.30" cy="100.40" r="1.95" fill="#ff8000"/>
<circle cx="536.10" cy="103.40" r="1.95" fill="#ff8000"/>
<circle cx="537.70" cy="101.30" r="1.95" fill="#ff8000"/>
<circle cx="537.10" cy="105.80" r="1.95" fill="#ff8000"/>
<circle cx="557.70" cy="109.20" r="1.95" fill="#ff8000"/>
<circle cx="394.70" cy="162.60" r="1.95" fill="#00b400"/>
<circle cx="405.50" cy="162.00" r="1.95" fill="#00b400"/>
<circle cx="420.30" cy="148.70" r="1.95" fill="#00b400"/>
<circle cx="428.10" cy="142.20" r="1.95" fill="#00b400"/>
<circle cx="433.90" cy="145.30" r="1.95" fill="#00b400"/>
<circle cx="446.40" cy="139.20" r="1.95" fill="#00b400"/>
<circle cx="468.30" cy="130.40" r="1.95" fill="#00b400"/>
<circle cx="484.30" cy="129.20" r="1.95" fill="#00b400"/>
<circle cx="489.40" cy="120.00" r="1.95" fill="#00b400"/>
<circle cx="493.40" cy="123.60" r="1.95" fill="#00b400"/>
<circle cx="497.70" cy="117.20" r="1.95" fill="#00b400"/>
<circle cx="506.00" cy="120.90" r="1.95" fill="#00b400"/>
<circle cx="507.00" cy="125.80" r="1.95" fill="#00b400"/>
<circle cx="521.40" cy="113.70" r="1.95" fill="#00b400"/>
<circle cx="544.70" cy="117.20" r="1.95" fill="#00b400"/>
<circle cx="558.90" cy="117.80" r="1.95" fill="#00b400"/>
<circle cx="442.60" cy="139.20" r="1.95" fill="#0000ff"/>
<circle cx="451.80" cy="139.90" r="1.95" fill="#0000ff"/>
<circle cx="459.80" cy="136.40" r="1.95" fill="#0000ff"/>
<circle cx="479.00" cy="130.80" r="1.95" fill="#0000ff"/>
<circle cx="489.30" cy="123.70" r="1.95" fill="#0000ff"/>
<circle cx="494.60" cy="123.40" r="1.95" fill="#0000ff"/>
<circle cx="496.80" cy="128.40" r="1.95" fill="#0000ff"/>
<circle cx="500.50" cy="123.60" r="1.95" fill="#0000ff"/>
<circle cx="502.60" cy="120.30" r="1.95" fill="#0000ff"/>
<circle cx="496.30" cy="136.00" r="1.95" fill="#0000ff"/>
<circle cx="522.80" cy="124.00" r="1.95" fill="#0000ff"/>
<circle cx="520.30" cy="130.40" r="1.95" fill="#0000ff"/>
<circle cx="537.60" cy="117.80" r="1.95" fill="#0000ff"/>
<circle cx="398.30" cy="185.30" r="1.95" fill="#0000ff"/>
<circle cx="421.90" cy="142.00" r="1.95" fill="#a000e6"/>
<circle cx="424.40" cy="144.10" r="1.95" fill="#a000e6"/>
<circle cx="426.50" cy="146.00" r="1.95" fill="#a000e6"/>
<circle cx="432.60" cy="142.20" r="1.95" fill="#a000e6"/>
<circle cx="442.50" cy="144.10" r="1.95" fill="#a000e6"/>
<circle cx="444.40" cy="143.10" r="1.95" fill="#a000e6"/>
<circle cx="449.00" cy="141.60" r="1.95" fill="#a000e6"/>
<circle cx="454.50" cy="140.00" r="1.95" fill="#a000e6"/>
<circle cx="489.20" cy="129.70" r="1.95" fill="#a000e6"/>
<circle cx="481.50" cy="136.50" r="1.95" fill="#a000e6"/>
<circle cx="485.00" cy="139.80" r="1.95" fill="#a000e6"/>
<circle cx="491.50" cy="141.80" r="1.95" fill="#a000e6"/>
<circle cx="521.40" cy="133.50" r="1.95" fill="#a000e6"/>
<circle cx="480.40" cy="187.80" r="1.95" fill="#a000e6"/>
<circle cx="66.75" cy="418.60" r="1.95" fill="#a000e6"/>
<circle cx="71.30" cy="415.41" r="1.95" fill="#a000e6"/>
<circle cx="84.26" cy="407.18" r="1.95" fill="#00b400"/>
<circle cx="85.57" cy="406.86" r="1.95" fill="#a000e6"/>
<circle cx="94.45" cy="399.80" r="1.95" fill="#a000e6"/>
<circle cx="95.62" cy="400.28" r="1.95" fill="#a000e6"/>
<circle cx="101.59" cy="395.65" r="1.95" fill="#a000e6"/>
<circle cx="105.17" cy="393.21" r="1.95" fill="#ff0000"/>
<circle cx="110.42" cy="390.64" r="1.95" fill="#a000e6"/>
<circle cx="113.29" cy="388.09" r="1.95" fill="#a000e6"/>
<circle cx="116.27" cy="385.79" r="1.95" fill="#a000e6"/>
<circle cx="117.99" cy="384.95" r="1.95" fill="#00b400"/>
<circle cx="119.64" cy="384.26" r="1.95" fill="#0000ff"/>
<circle cx="121.99" cy="381.48" r="1.95" fill="#ff0000"/>
<circle cx="123.73" cy="382.03" r="1.95" fill="#ff8000"/>
<circle cx="125.07" cy="379.36" r="1.95" fill="#ff0000"/>
<circle cx="128.67" cy="378.30" r="1.95" fill="#ff8000"/>
<circle cx="129.54" cy="377.90" r="1.95" fill="#0000ff"/>
<circle cx="130.46" cy="375.74" r="1.95" fill="#00b400"/>
<circle cx="132.90" cy="375.55" r="1.95" fill="#ff0000"/>
<circle cx="136.41" cy="372.41" r="1.95" fill="#ff8000"/>
<circle cx="138.25" cy="371.57" r="1.95" fill="#ff0000"/>
<circle cx="141.16" cy="368.57" r="1.95" fill="#ff0000"/>
<circle cx="144.88" cy="366.15" r="1.95" fill="#ff0000"/>
<circle cx="147.38" cy="364.73" r="1.95" fill="#ff0000"/>
<circle cx="151.12" cy="363.67" r="1.95" fill="#ff8000"/>
<circle cx="151.79" cy="361.81" r="1.95" fill="#0000ff"/>
<circle cx="154.88" cy="360.78" r="1.95" fill="#ff0000"/>
<circle cx="159.60" cy="357.95" r="1.95" fill="#ff0000"/>
<circle cx="163.41" cy="355.42" r="1.95" fill="#a000e6"/>
<circle cx="164.19" cy="353.78" r="1.95" fill="#ff0000"/>
<circle cx="167.30" cy="351.73" r="1.95" fill="#ff0000"/>
<circle cx="170.52" cy="349.89" r="1.95" fill="#ff0000"/>
<circle cx="173.59" cy="348.30" r="1.95" fill="#00b400"/>
<circle cx="175.93" cy="345.49" r="1.95" fill="#ff8000"/>
<circle cx="180.17" cy="343.85" r="1.95" fill="#ff0000"/>
<circle cx="184.51" cy="341.04" r="1.95" fill="#ff0000"/>
<circle cx="189.75" cy="337.65" r="1.95" fill="#0000ff"/>
<circle cx="191.48" cy="334.96" r="1.95" fill="#0000ff"/>
<circle cx="195.21" cy="334.16" r="1.95" fill="#00b400"/>
<circle cx="196.91" cy="331.42" r="1.95" fill="#ff0000"/>
<circle cx="200.99" cy="329.16" r="1.95" fill="#00b400"/>
<circle cx="202.68" cy="328.53" r="1.95" fill="#ff0000"/>
<circle cx="205.19" cy="327.43" r="1.95" fill="#ff8000"/>
<circle cx="207.89" cy="324.54" r="1.95" fill="#ff0000"/>
<circle cx="209.90" cy="324.29" r="1.95" fill="#0000ff"/>
<circle cx="213.43" cy="321.22" r="1.95" fill="#00b400"/>
<circle cx="218.67" cy="317.28" r="1.95" fill="#00b400"/>
<circle cx="220.27" cy="316.21" r="1.95" fill="#00b400"/>
<circle cx="111.90" cy="388.46" r="1.95" fill="#a000e6"/>
<circle cx="114.25" cy="386.70" r="1.95" fill="#a000e6"/>
<circle cx="116.65" cy="385.22" r="1.95" fill="#a000e6"/>
<circle cx="119.47" cy="384.34" r="1.95" fill="#0000ff"/>
<circle cx="121.79" cy="383.37" r="1.95" fill="#ff0000"/>
<circle cx="123.69" cy="380.54" r="1.95" fill="#ff8000"/>
<circle cx="125.01" cy="379.44" r="1.95" fill="#ff0000"/>
<circle cx="128.41" cy="378.92" r="1.95" fill="#ff8000"/>
<circle cx="130.87" cy="376.43" r="1.95" fill="#00b400"/>
<circle cx="132.78" cy="374.91" r="1.95" fill="#ff0000"/>
<circle cx="135.22" cy="372.97" r="1.95" fill="#ff8000"/>
<circle cx="136.98" cy="372.46" r="1.95" fill="#ff8000"/>
<circle cx="139.80" cy="371.00" r="1.95" fill="#ff0000"/>
<circle cx="141.62" cy="369.10" r="1.95" fill="#ff0000"/>
<circle cx="144.19" cy="367.31" r="1.95" fill="#ff0000"/>
<circle cx="146.26" cy="365.24" r="1.95" fill="#ff0000"/>
<circle cx="148.60" cy="365.28" r="1.95" fill="#ff0000"/>
<circle cx="150.49" cy="362.37" r="1.95" fill="#ff8000"/>
<circle cx="153.17" cy="361.43" r="1.95" fill="#ff0000"/>
<circle cx="156.35" cy="359.95" r="1.95" fill="#ff0000"/>
<circle cx="158.01" cy="357.52" r="1.95" fill="#ff0000"/>
<circle cx="160.12" cy="357.23" r="1.95" fill="#ff0000"/>
<circle cx="163.21" cy="355.57" r="1.95" fill="#a000e6"/>
<circle cx="164.63" cy="354.03" r="1.95" fill="#ff0000"/>
<circle cx="167.52" cy="352.39" r="1.95" fill="#ff0000"/>
<circle cx="168.85" cy="350.22" r="1.95" fill="#ff0000"/>
<circle cx="171.26" cy="349.23" r="1.95" fill="#ff0000"/>
<circle cx="174.23" cy="346.71" r="1.95" fill="#00b400"/>
<circle cx="176.35" cy="346.58" r="1.95" fill="#ff8000"/>
<circle cx="178.27" cy="344.27" r="1.95" fill="#ff0000"/>
<circle cx="181.45" cy="342.44" r="1.95" fill="#ff0000"/>
<circle cx="184.02" cy="341.74" r="1.95" fill="#ff0000"/>
<circle cx="185.64" cy="340.39" r="1.95" fill="#ff0000"/>
<circle cx="188.69" cy="338.57" r="1.95" fill="#0000ff"/>
<circle cx="190.21" cy="336.58" r="1.95" fill="#0000ff"/>
<circle cx="192.67" cy="335.00" r="1.95" fill="#0000ff"/>
<circle cx="194.67" cy="334.12" r="1.95" fill="#00b400"/>
<circle cx="197.53" cy="331.73" r="1.95" fill="#ff0000"/>
<circle cx="199.44" cy="330.10" r="1.95" fill="#00b400"/>
<circle cx="202.10" cy="328.53" r="1.95" fill="#00b400"/>
<circle cx="204.15" cy="326.68" r="1.95" fill="#ff8000"/>
<circle cx="206.01" cy="325.87" r="1.95" fill="#ff8000"/>
<circle cx="208.80" cy="325.14" r="1.95" fill="#ff0000"/>
<circle cx="210.89" cy="323.69" r="1.95" fill="#0000ff"/>
<circle cx="396.20" cy="427.26" r="1.95" fill="#ff0000"/>
<circle cx="398.00" cy="426.32" r="1.95" fill="#0000ff"/>
<circle cx="400.80" cy="424.31" r="1.95" fill="#ff0000"/>
<circle cx="403.90" cy="422.14" r="1.95" fill="#ff0000"/>
<circle cx="407.80" cy="419.59" r="1.95" fill="#ff8000"/>
<circle cx="410.10" cy="418.17" r="1.95" fill="#ff0000"/>
<circle cx="412.40" cy="416.55" r="1.95" fill="#a000e6"/>
<circle cx="416.30" cy="413.96" r="1.95" fill="#a000e6"/>
<circle cx="420.10" cy="411.34" r="1.95" fill="#00b400"/>
<circle cx="422.50" cy="410.00" r="1.95" fill="#ff0000"/>
<circle cx="424.80" cy="408.41" r="1.95" fill="#a000e6"/>
<circle cx="427.10" cy="407.02" r="1.95" fill="#0000ff"/>
<circle cx="432.50" cy="403.41" r="1.95" fill="#a000e6"/>
<circle cx="433.60" cy="402.47" r="1.95" fill="#ff8000"/>
<circle cx="437.90" cy="400.00" r="1.95" fill="#a000e6"/>
<circle cx="442.50" cy="396.39" r="1.95" fill="#a000e6"/>
<circle cx="446.40" cy="394.04" r="1.95" fill="#00b400"/>
<circle cx="448.70" cy="392.43" r="1.95" fill="#ff0000"/>
<circle cx="451.80" cy="390.45" r="1.95" fill="#0000ff"/>
<circle cx="454.90" cy="388.20" r="1.95" fill="#a000e6"/>
<circle cx="456.50" cy="387.57" r="1.95" fill="#a000e6"/>
<circle cx="459.60" cy="385.23" r="1.95" fill="#0000ff"/>
<circle cx="463.40" cy="382.49" r="1.95" fill="#ff0000"/>
<circle cx="466.00" cy="381.11" r="1.95" fill="#a000e6"/>
<circle cx="468.80" cy="378.93" r="1.95" fill="#00b400"/>
<circle cx="471.10" cy="377.67" r="1.95" fill="#0000ff"/>
<circle cx="475.00" cy="374.95" r="1.95" fill="#ff8000"/>
<circle cx="478.90" cy="372.50" r="1.95" fill="#a000e6"/>
<circle cx="481.20" cy="371.19" r="1.95" fill="#a000e6"/>
<circle cx="484.60" cy="368.84" r="1.95" fill="#a000e6"/>
<circle cx="489.30" cy="365.47" r="1.95" fill="#a000e6"/>
<circle cx="495.50" cy="361.58" r="1.95" fill="#0000ff"/>
<circle cx="501.60" cy="357.41" r="1.95" fill="#0000ff"/>
<circle cx="506.30" cy="354.12" r="1.95" fill="#00b400"/>
<circle cx="508.60" cy="352.45" r="1.95" fill="#ff8000"/>
<circle cx="512.50" cy="350.13" r="1.95" fill="#ff0000"/>
<circle cx="517.10" cy="347.04" r="1.95" fill="#a000e6"/>
<circle cx="521.70" cy="344.21" r="1.95" fill="#a000e6"/>
<circle cx="524.80" cy="342.16" r="1.95" fill="#00b400"/>
<circle cx="528.70" cy="339.34" r="1.95" fill="#0000ff"/>
<circle cx="532.50" cy="336.66" r="1.95" fill="#00b400"/>
<circle cx="537.50" cy="333.65" r="1.95" fill="#0000ff"/>
<circle cx="541.00" cy="330.79" r="1.95" fill="#ff8000"/>
<circle cx="544.90" cy="328.25" r="1.95" fill="#00b400"/>
<circle cx="548.80" cy="325.93" r="1.95" fill="#a000e6"/>
<circle cx="553.40" cy="322.89" r="1.95" fill="#ff0000"/>
<circle cx="558.80" cy="319.01" r="1.95" fill="#00b400"/>
<circle cx="562.00" cy="317.17" r="1.95" fill="#ff0000"/>
<circle cx="564.20" cy="315.87" r="1.95" fill="#ff0000"/>
<circle cx="565.50" cy="314.69" r="1.95" fill="#ff0000"/>
<circle cx="395.10" cy="428.23" r="1.95" fill="#ff0000"/>
<circle cx="397.60" cy="426.44" r="1.95" fill="#0000ff"/>
<circle cx="400.07" cy="424.83" r="1.95" fill="#ff0000"/>
<circle cx="402.47" cy="423.64" r="1.95" fill="#ff0000"/>
<circle cx="405.22" cy="421.46" r="1.95" fill="#ff0000"/>
<circle cx="408.23" cy="419.80" r="1.95" fill="#ff8000"/>
<circle cx="410.89" cy="418.00" r="1.95" fill="#ff0000"/>
<circle cx="413.09" cy="416.34" r="1.95" fill="#a000e6"/>
<circle cx="416.03" cy="414.18" r="1.95" fill="#a000e6"/>
<circle cx="418.62" cy="412.89" r="1.95" fill="#00b400"/>
<circle cx="421.16" cy="410.91" r="1.95" fill="#00b400"/>
<circle cx="423.73" cy="409.15" r="1.95" fill="#ff0000"/>
<circle cx="426.41" cy="407.31" r="1.95" fill="#0000ff"/>
<circle cx="428.69" cy="406.18" r="1.95" fill="#0000ff"/>
<circle cx="431.56" cy="403.97" r="1.95" fill="#a000e6"/>
<circle cx="433.82" cy="402.34" r="1.95" fill="#ff8000"/>
<circle cx="436.59" cy="400.62" r="1.95" fill="#a000e6"/>
<circle cx="439.42" cy="398.52" r="1.95" fill="#a000e6"/>
<circle cx="441.95" cy="397.13" r="1.95" fill="#a000e6"/>
<circle cx="444.24" cy="395.50" r="1.95" fill="#a000e6"/>
<circle cx="447.36" cy="393.34" r="1.95" fill="#00b400"/>
<circle cx="449.72" cy="392.05" r="1.95" fill="#ff0000"/>
<circle cx="452.26" cy="390.39" r="1.95" fill="#0000ff"/>
<circle cx="454.41" cy="388.47" r="1.95" fill="#a000e6"/>
<circle cx="457.44" cy="386.76" r="1.95" fill="#a000e6"/>
<circle cx="459.80" cy="385.04" r="1.95" fill="#0000ff"/>
<circle cx="462.74" cy="383.48" r="1.95" fill="#ff0000"/>
<circle cx="465.17" cy="381.76" r="1.95" fill="#a000e6"/>
<circle cx="468.05" cy="379.52" r="1.95" fill="#00b400"/>
<circle cx="470.52" cy="377.89" r="1.95" fill="#0000ff"/>
<circle cx="473.24" cy="376.01" r="1.95" fill="#0000ff"/>
<circle cx="475.48" cy="375.02" r="1.95" fill="#ff8000"/>
<circle cx="478.32" cy="372.71" r="1.95" fill="#a000e6"/>
<circle cx="480.99" cy="371.12" r="1.95" fill="#a000e6"/>
<circle cx="483.66" cy="369.26" r="1.95" fill="#a000e6"/>
<circle cx="485.88" cy="367.89" r="1.95" fill="#a000e6"/>
<circle cx="488.87" cy="365.87" r="1.95" fill="#a000e6"/>
<circle cx="491.50" cy="364.20" r="1.95" fill="#a000e6"/>
<circle cx="493.95" cy="362.19" r="1.95" fill="#0000ff"/>
<circle cx="496.78" cy="360.69" r="1.95" fill="#0000ff"/>
<circle cx="499.37" cy="358.70" r="1.95" fill="#0000ff"/>
<circle cx="501.61" cy="357.34" r="1.95" fill="#0000ff"/>
<circle cx="504.22" cy="355.48" r="1.95" fill="#00b400"/>
<circle cx="506.53" cy="353.92" r="1.95" fill="#00b400"/>
<circle cx="509.67" cy="351.97" r="1.95" fill="#ff8000"/>
<circle cx="512.35" cy="350.15" r="1.95" fill="#ff0000"/>
<circle cx="514.58" cy="348.60" r="1.95" fill="#ff0000"/>
<circle cx="517.35" cy="346.98" r="1.95" fill="#a000e6"/>
<circle cx="519.98" cy="345.14" r="1.95" fill="#a000e6"/>
<circle cx="522.58" cy="343.07" r="1.95" fill="#a000e6"/>
<circle cx="524.74" cy="341.77" r="1.95" fill="#00b400"/>
<circle cx="527.82" cy="339.83" r="1.95" fill="#0000ff"/>
<circle cx="530.26" cy="338.49" r="1.95" fill="#0000ff"/>
<circle cx="532.93" cy="336.69" r="1.95" fill="#00b400"/>
<circle cx="535.34" cy="334.88" r="1.95" fill="#0000ff"/>
<circle cx="538.10" cy="332.73" r="1.95" fill="#0000ff"/>
<circle cx="540.82" cy="331.37" r="1.95" fill="#ff8000"/>
<circle cx="543.31" cy="329.50" r="1.95" fill="#00b400"/>
<circle cx="545.98" cy="327.82" r="1.95" fill="#00b400"/>
<circle cx="548.02" cy="326.53" r="1.95" fill="#a000e6"/>
<circle cx="550.73" cy="324.68" r="1.95" fill="#a000e6"/>
<circle cx="553.55" cy="322.71" r="1.95" fill="#ff0000"/>
<circle cx="556.32" cy="321.13" r="1.95" fill="#00b400"/>
<circle cx="558.58" cy="319.31" r="1.95" fill="#00b400"/>
<circle cx="561.55" cy="317.33" r="1.95" fill="#ff0000"/>
<circle cx="564.10" cy="315.91" r="1.95" fill="#ff0000"/>
<g clip-path="url(#clipE)">
<path d="M51.30,658.30 L53.12,662.15 L54.93,658.30 L56.75,661.19 L58.57,664.08 L62.20,663.11 L66.57,652.72 L73.11,656.38 L76.75,665.04 L87.65,665.42 L98.19,656.18 L104.01,665.04 L114.55,647.71 L124.00,654.45 L138.54,665.42 L151.26,661.38 L163.98,665.42 L188.34,654.84 L196.70,657.14 L225.05,659.65 L232.69,660.23 L245.77,639.43 L257.77,660.23 L267.95,659.46 L279.21,643.67 L288.30,649.25 L303.21,647.90 L323.56,643.67 L336.65,646.37 L344.28,645.60 L348.64,642.90 L366.45,537.60 L407.17,624.23 L409.71,521.05 L408.98,663.69 L379.18,658.88 L348.28,655.41 L342.10,664.08 L305.75,665.04 L269.40,665.42 L233.05,666.00 L51.30,666.00 Z" fill="#e8cdf8" stroke="none"/>
<path d="M51.30,663.11 L54.93,660.23 L58.57,665.04 L67.66,656.38 L71.29,656.95 L74.93,665.04 L87.65,665.42 L114.55,659.26 L124.00,661.19 L138.54,665.62 L163.98,665.62 L188.34,663.11 L196.70,658.30 L222.14,660.23 L233.05,662.15 L245.77,643.67 L258.50,664.08 L269.40,665.04 L279.21,656.38 L305.75,660.23 L334.83,664.08 L348.64,654.45 L361.37,538.95 L379.18,645.60 L408.26,645.60 L408.26,665.42 L378.45,658.30 L360.27,665.04 L348.64,666.00 L258.50,666.00 L245.77,664.08 L233.05,666.00 L51.30,666.00 Z" fill="#ccf7cc" stroke="none"/>
<path d="M51.30,658.30 L53.12,664.08 L54.93,656.38 L56.75,664.08 L58.57,658.30 L62.20,665.04 L69.47,664.08 L87.65,665.23 L105.82,665.23 L114.55,664.46 L124.00,665.04 L138.54,665.62 L151.26,661.76 L163.98,665.62 L178.52,664.08 L196.70,659.46 L214.88,660.23 L233.05,661.19 L245.77,660.23 L258.50,664.08 L269.40,664.08 L279.21,644.83 L288.30,652.72 L305.75,649.64 L323.56,643.67 L335.92,665.04 L344.28,655.61 L348.64,642.90 L363.91,656.38 L383.90,553.00 L405.35,599.01 L407.89,512.58 L409.71,627.50 L409.71,666.00 L383.18,666.00 L363.91,666.00 L344.28,665.04 L335.92,665.42 L305.75,665.04 L277.40,664.08 L269.40,665.62 L233.05,666.00 L87.65,666.00 L51.30,665.42 Z" fill="#fde0e0" stroke="none"/>
<path d="M51.30,658.30 L53.12,662.15 L54.93,658.30 L56.75,661.19 L58.57,664.08 L62.20,663.11 L66.57,652.72 L73.11,656.38 L76.75,665.04 L87.65,665.42 L98.19,656.18 L104.01,665.04 L114.55,647.71 L124.00,654.45 L138.54,665.42 L151.26,661.38 L163.98,665.42 L188.34,654.84 L196.70,657.14 L225.05,659.65 L232.69,660.23 L245.77,639.43 L257.77,660.23 L267.95,659.46 L279.21,643.67 L288.30,649.25 L303.21,647.90 L323.56,643.67 L336.65,646.37 L344.28,645.60 L348.64,642.90 L366.45,537.60 L407.17,624.23 L409.71,521.05" fill="none" stroke="#b82ee0" stroke-width="1.4" stroke-dasharray="1.25 1.05" stroke-linejoin="round"/>
<path d="M51.30,666.00 L233.05,666.00 L269.40,665.42 L305.75,665.04 L342.10,664.08 L348.28,655.41 L379.18,658.88 L408.98,663.69" fill="none" stroke="#b82ee0" stroke-width="1.4" stroke-dasharray="1.25 1.05" stroke-linejoin="round"/>
<path d="M51.30,664.08 L53.12,661.19 L54.93,665.04 L56.75,662.15 L58.57,665.42 L66.57,661.38 L71.29,661.38 L74.93,665.42 L87.65,665.42 L98.19,663.11 L104.01,665.42 L114.55,658.68 L124.00,661.19 L138.54,665.62 L151.26,664.08 L163.98,665.62 L188.34,661.19 L196.70,662.53 L233.05,664.08 L245.77,655.22 L258.50,664.46 L269.40,664.46 L279.21,655.22 L287.57,656.38 L305.75,658.30 L323.56,656.57 L330.47,656.76 L339.92,658.11 L349.73,651.95 L366.45,618.84 L386.08,623.46 L406.44,649.06 L409.71,592.85" fill="none" stroke="#a020f0" stroke-width="1.6" stroke-linejoin="round"/>
<path d="M51.30,663.11 L54.93,660.23 L58.57,665.04 L67.66,656.38 L71.29,656.95 L74.93,665.04 L87.65,665.42 L114.55,659.26 L124.00,661.19 L138.54,665.62 L163.98,665.62 L188.34,663.11 L196.70,658.30 L222.14,660.23 L233.05,662.15 L245.77,643.67 L258.50,664.08 L269.40,665.04 L279.21,656.38 L305.75,660.23 L334.83,664.08 L348.64,654.45 L361.37,538.95 L379.18,645.60 L408.26,645.60" fill="none" stroke="#10c010" stroke-width="1.4" stroke-dasharray="1.25 1.05" stroke-linejoin="round"/>
<path d="M51.30,666.00 L233.05,666.00 L245.77,664.08 L258.50,666.00 L348.64,666.00 L360.27,665.04 L378.45,658.30 L408.26,665.42" fill="none" stroke="#10c010" stroke-width="1.4" stroke-dasharray="1.25 1.05" stroke-linejoin="round"/>
<path d="M51.30,664.08 L54.93,662.15 L58.57,665.42 L67.66,664.08 L71.29,663.69 L74.93,665.42 L87.65,665.62 L114.55,662.53 L124.00,664.08 L138.54,665.81 L163.98,665.81 L188.34,664.46 L196.70,662.15 L233.05,664.08 L245.77,659.26 L258.50,665.04 L269.40,665.42 L279.21,662.15 L305.75,663.11 L323.93,664.08 L334.83,665.04 L348.64,658.30 L361.73,622.69 L378.45,651.95 L402.80,656.18 L408.26,649.83" fill="none" stroke="#00b400" stroke-width="1.6" stroke-linejoin="round"/>
<path d="M51.30,658.30 L53.12,664.08 L54.93,656.38 L56.75,664.08 L58.57,658.30 L62.20,665.04 L69.47,664.08 L87.65,665.23 L105.82,665.23 L114.55,664.46 L124.00,665.04 L138.54,665.62 L151.26,661.76 L163.98,665.62 L178.52,664.08 L196.70,659.46 L214.88,660.23 L233.05,661.19 L245.77,660.23 L258.50,664.08 L269.40,664.08 L279.21,644.83 L288.30,652.72 L305.75,649.64 L323.56,643.67 L335.92,665.04 L344.28,655.61 L348.64,642.90 L363.91,656.38 L383.90,553.00 L405.35,599.01 L407.89,512.58 L409.71,627.50" fill="none" stroke="#ff1010" stroke-width="1.4" stroke-dasharray="1.25 1.05" stroke-linejoin="round"/>
<path d="M51.30,665.42 L87.65,666.00 L233.05,666.00 L269.40,665.62 L277.40,664.08 L305.75,665.04 L335.92,665.42 L344.28,665.04 L363.91,666.00 L383.18,666.00 L409.71,666.00" fill="none" stroke="#ff1010" stroke-width="1.4" stroke-dasharray="1.25 1.05" stroke-linejoin="round"/>
<path d="M51.30,662.15 L53.12,665.04 L54.93,660.23 L56.75,664.46 L58.57,662.15 L62.20,665.42 L69.47,665.04 L73.11,665.42 L87.65,665.42 L105.82,665.62 L114.55,665.04 L124.00,665.42 L138.54,665.81 L151.26,663.69 L163.98,665.81 L178.52,665.42 L196.70,663.11 L214.88,663.69 L233.05,664.08 L245.77,663.11 L258.50,665.04 L269.40,665.04 L277.40,656.57 L288.30,661.00 L323.56,656.57 L335.92,665.04 L344.28,656.57 L348.64,654.07 L363.91,661.00 L383.18,618.45 L406.44,644.25 L408.98,605.94" fill="none" stroke="#ff0000" stroke-width="1.6" stroke-linejoin="round"/>
</g>
<defs><clipPath id="clipE"><rect x="51" y="500" width="370" height="165.3"/></clipPath><clipPath id="clipG"><rect x="51" y="740" width="370" height="170.6"/></clipPath></defs>
<line x1="54.55" y1="646.75" x2="412.50" y2="646.75" stroke="#000" stroke-width="1.9" stroke-dasharray="1.9 2.72"/>
<text x="2.00" y="517.30" font-size="18.5" font-weight="bold" text-anchor="start" fill="#000" >e</text>
<line x1="51.10" y1="511.30" x2="51.10" y2="672.60" stroke="#000" stroke-width="1.8" />
<line x1="50.30" y1="666.10" x2="415.50" y2="666.10" stroke="#000" stroke-width="1.8" />
<line x1="44.50" y1="666.00" x2="51.10" y2="666.00" stroke="#000" stroke-width="1.6" />
<text x="42.60" y="670.30" font-size="11" font-weight="bold" text-anchor="end" fill="#000" >0</text>
<line x1="44.50" y1="627.50" x2="51.10" y2="627.50" stroke="#000" stroke-width="1.6" />
<text x="42.60" y="631.80" font-size="11" font-weight="bold" text-anchor="end" fill="#000" >20</text>
<line x1="44.50" y1="589.00" x2="51.10" y2="589.00" stroke="#000" stroke-width="1.6" />
<text x="42.60" y="593.30" font-size="11" font-weight="bold" text-anchor="end" fill="#000" >40</text>
<line x1="44.50" y1="550.50" x2="51.10" y2="550.50" stroke="#000" stroke-width="1.6" />
<text x="42.60" y="554.80" font-size="11" font-weight="bold" text-anchor="end" fill="#000" >60</text>
<line x1="44.50" y1="512.00" x2="51.10" y2="512.00" stroke="#000" stroke-width="1.6" />
<text x="42.60" y="516.30" font-size="11" font-weight="bold" text-anchor="end" fill="#000" >80</text>
<line x1="47.30" y1="646.75" x2="51.10" y2="646.75" stroke="#000" stroke-width="1.6" />
<line x1="47.30" y1="608.25" x2="51.10" y2="608.25" stroke="#000" stroke-width="1.6" />
<line x1="47.30" y1="569.75" x2="51.10" y2="569.75" stroke="#000" stroke-width="1.6" />
<line x1="47.30" y1="531.25" x2="51.10" y2="531.25" stroke="#000" stroke-width="1.6" />
<line x1="51.30" y1="666.10" x2="51.30" y2="672.60" stroke="#000" stroke-width="1.6" />
<line x1="87.65" y1="666.10" x2="87.65" y2="669.90" stroke="#000" stroke-width="1.6" />
<line x1="124.00" y1="666.10" x2="124.00" y2="672.60" stroke="#000" stroke-width="1.6" />
<text x="124.00" y="686.20" font-size="11" font-weight="bold" text-anchor="middle" fill="#000" >20</text>
<line x1="160.35" y1="666.10" x2="160.35" y2="669.90" stroke="#000" stroke-width="1.6" />
<line x1="196.70" y1="666.10" x2="196.70" y2="672.60" stroke="#000" stroke-width="1.6" />
<text x="196.70" y="686.20" font-size="11" font-weight="bold" text-anchor="middle" fill="#000" >40</text>
<line x1="233.05" y1="666.10" x2="233.05" y2="669.90" stroke="#000" stroke-width="1.6" />
<line x1="269.40" y1="666.10" x2="269.40" y2="672.60" stroke="#000" stroke-width="1.6" />
<text x="269.40" y="686.20" font-size="11" font-weight="bold" text-anchor="middle" fill="#000" >60</text>
<line x1="305.75" y1="666.10" x2="305.75" y2="669.90" stroke="#000" stroke-width="1.6" />
<line x1="342.10" y1="666.10" x2="342.10" y2="672.60" stroke="#000" stroke-width="1.6" />
<text x="342.10" y="686.20" font-size="11" font-weight="bold" text-anchor="middle" fill="#000" >80</text>
<line x1="378.45" y1="666.10" x2="378.45" y2="669.90" stroke="#000" stroke-width="1.6" />
<line x1="414.80" y1="666.10" x2="414.80" y2="672.60" stroke="#000" stroke-width="1.6" />
<text x="414.80" y="686.20" font-size="11" font-weight="bold" text-anchor="middle" fill="#000" >100</text>
<text x="51.30" y="686.20" font-size="11" font-weight="bold" text-anchor="middle" fill="#000" >0</text>
<text x="232.95" y="705.90" font-size="12.6" font-weight="bold" text-anchor="middle" fill="#000" >Mean depletion (%)</text>
<text transform="translate(22.2,589.05) rotate(-90)" font-size="12.6" font-weight="bold" text-anchor="middle">Relative error (%)</text>
<line x1="79.30" y1="544.20" x2="95.70" y2="544.20" stroke="#ff0000" stroke-width="1.6" />
<text x="104.6" y="548.2" font-size="13">k<tspan font-size="9.5" dy="2.3">a</tspan></text>
<line x1="149.40" y1="544.20" x2="165.80" y2="544.20" stroke="#00b400" stroke-width="1.6" />
<text x="175.1" y="548.2" font-size="13">k<tspan font-size="9.5" dy="2.3">d</tspan></text>
<line x1="219.30" y1="544.20" x2="235.70" y2="544.20" stroke="#a020f0" stroke-width="1.6" />
<text x="245.3" y="548.2" font-size="13">K<tspan font-size="9.5" dy="2.3">D</tspan></text>
<g clip-path="url(#clipG)">
<path d="M51.30,757.40 L52.94,757.40 L53.48,880.28 L54.93,864.92 L56.75,903.32 L59.30,757.40 L61.11,757.40 L62.20,884.89 L64.39,892.57 L67.29,897.18 L71.29,903.32 L76.75,907.93 L89.83,896.56 L98.55,907.93 L124.00,909.46 L160.35,909.46 L191.61,901.78 L206.51,901.78 L243.59,909.16 L264.67,909.77 L271.22,899.33 L284.67,901.94 L310.84,900.56 L330.47,904.55 L343.55,897.94 L355.55,908.54 L375.18,870.45 L397.72,873.06 L408.26,854.17 L413.35,904.55 L413.35,911.00 L51.30,911.00 Z" fill="#ccf7cc" stroke="none"/>
<path d="M51.30,898.71 L52.39,818.84 L53.48,837.27 L55.30,801.18 L56.75,849.56 L60.02,884.89 L62.20,872.60 L67.66,833.59 L72.38,905.01 L80.38,905.62 L100.01,905.47 L127.27,888.27 L145.81,908.70 L169.44,908.70 L196.70,885.35 L222.51,903.17 L250.13,896.72 L275.22,845.57 L294.84,858.62 L319.93,856.01 L335.92,879.67 L349.01,853.40 L376.63,828.36 L413.35,909.77 L413.35,911.00 L73.11,911.00 L62.20,910.23 L58.57,909.46 L54.93,907.93 L53.12,903.32 L51.30,911.00 Z" fill="#fde0e0" stroke="none"/>
<path d="M51.30,757.40 L52.94,757.40 L53.48,880.28 L54.93,864.92 L56.75,903.32 L59.30,757.40 L61.11,757.40 L62.20,884.89 L64.39,892.57 L67.29,897.18 L71.29,903.32 L76.75,907.93 L89.83,896.56 L98.55,907.93 L124.00,909.46 L160.35,909.46 L191.61,901.78 L206.51,901.78 L243.59,909.16 L264.67,909.77 L271.22,899.33 L284.67,901.94 L310.84,900.56 L330.47,904.55 L343.55,897.94 L355.55,908.54 L375.18,870.45 L397.72,873.06 L408.26,854.17 L413.35,904.55" fill="none" stroke="#10c010" stroke-width="1.4" stroke-dasharray="1.25 1.05" stroke-linejoin="round"/>
<path d="M51.30,911.00 L413.35,911.00" fill="none" stroke="#10c010" stroke-width="1.4" stroke-dasharray="1.25 1.05" stroke-linejoin="round"/>
<path d="M51.30,757.40 L52.39,757.40 L53.12,905.01 L54.93,882.58 L56.75,909.46 L60.39,840.34 L62.20,895.64 L64.39,894.41 L67.29,901.02 L69.11,898.40 L71.29,905.01 L74.93,908.70 L80.38,909.46 L89.83,904.86 L98.55,909.46 L124.00,910.23 L191.61,907.93 L206.51,907.93 L233.05,909.46 L264.67,909.77 L271.22,906.70 L329.01,908.54 L343.55,905.93 L355.55,909.31 L375.18,896.72 L397.72,895.33 L407.53,887.50 L413.35,908.54" fill="none" stroke="#00b400" stroke-width="1.6" stroke-linejoin="round"/>
<path d="M51.30,898.71 L52.39,818.84 L53.48,837.27 L55.30,801.18 L56.75,849.56 L60.02,884.89 L62.20,872.60 L67.66,833.59 L72.38,905.01 L80.38,905.62 L100.01,905.47 L127.27,888.27 L145.81,908.70 L169.44,908.70 L196.70,885.35 L222.51,903.17 L250.13,896.72 L275.22,845.57 L294.84,858.62 L319.93,856.01 L335.92,879.67 L349.01,853.40 L376.63,828.36 L413.35,909.77" fill="none" stroke="#ff1010" stroke-width="1.4" stroke-dasharray="1.25 1.05" stroke-linejoin="round"/>
<path d="M51.30,911.00 L53.12,903.32 L54.93,907.93 L58.57,909.46 L62.20,910.23 L73.11,911.00 L413.35,911.00" fill="none" stroke="#ff1010" stroke-width="1.4" stroke-dasharray="1.25 1.05" stroke-linejoin="round"/>
<path d="M51.30,841.88 L52.39,841.88 L53.30,869.53 L54.21,846.49 L55.66,898.71 L57.12,864.92 L60.02,898.40 L67.66,881.20 L72.38,905.01 L78.20,907.16 L87.65,908.70 L100.01,907.93 L127.27,899.33 L145.81,910.54 L171.25,910.54 L196.70,903.17 L222.51,907.93 L248.68,904.86 L275.22,880.43 L294.84,886.27 L319.93,888.27 L335.92,900.56 L349.01,885.66 L376.63,871.68 L413.35,909.77" fill="none" stroke="#ff0000" stroke-width="1.6" stroke-linejoin="round"/>
<line x1="53.60" y1="757.40" x2="53.60" y2="835.00" stroke="#00b400" stroke-width="2.4" />
<line x1="53.40" y1="835.00" x2="53.40" y2="905.00" stroke="#00b400" stroke-width="1.4" />
</g>
<line x1="54.55" y1="895.94" x2="412.50" y2="895.94" stroke="#000" stroke-width="1.9" stroke-dasharray="1.9 2.72"/>
<text x="2.00" y="761.50" font-size="18.5" font-weight="bold" text-anchor="start" fill="#000" >g</text>
<line x1="51.10" y1="756.70" x2="51.10" y2="917.80" stroke="#000" stroke-width="1.8" />
<line x1="50.30" y1="911.30" x2="415.50" y2="911.30" stroke="#000" stroke-width="1.8" />
<line x1="44.50" y1="911.00" x2="51.10" y2="911.00" stroke="#000" stroke-width="1.6" />
<text x="42.60" y="915.30" font-size="11" font-weight="bold" text-anchor="end" fill="#000" >0</text>
<line x1="44.50" y1="880.28" x2="51.10" y2="880.28" stroke="#000" stroke-width="1.6" />
<text x="42.60" y="884.58" font-size="11" font-weight="bold" text-anchor="end" fill="#000" >20</text>
<line x1="44.50" y1="849.56" x2="51.10" y2="849.56" stroke="#000" stroke-width="1.6" />
<text x="42.60" y="853.86" font-size="11" font-weight="bold" text-anchor="end" fill="#000" >40</text>
<line x1="44.50" y1="818.84" x2="51.10" y2="818.84" stroke="#000" stroke-width="1.6" />
<text x="42.60" y="823.14" font-size="11" font-weight="bold" text-anchor="end" fill="#000" >60</text>
<line x1="44.50" y1="788.12" x2="51.10" y2="788.12" stroke="#000" stroke-width="1.6" />
<text x="42.60" y="792.42" font-size="11" font-weight="bold" text-anchor="end" fill="#000" >80</text>
<line x1="44.50" y1="757.40" x2="51.10" y2="757.40" stroke="#000" stroke-width="1.6" />
<text x="42.60" y="761.70" font-size="11" font-weight="bold" text-anchor="end" fill="#000" >100</text>
<line x1="51.30" y1="911.30" x2="51.30" y2="917.80" stroke="#000" stroke-width="1.6" />
<line x1="124.00" y1="911.30" x2="124.00" y2="917.80" stroke="#000" stroke-width="1.6" />
<text x="124.00" y="930.90" font-size="11" font-weight="bold" text-anchor="middle" fill="#000" >20</text>
<line x1="196.70" y1="911.30" x2="196.70" y2="917.80" stroke="#000" stroke-width="1.6" />
<text x="196.70" y="930.90" font-size="11" font-weight="bold" text-anchor="middle" fill="#000" >40</text>
<line x1="269.40" y1="911.30" x2="269.40" y2="917.80" stroke="#000" stroke-width="1.6" />
<text x="269.40" y="930.90" font-size="11" font-weight="bold" text-anchor="middle" fill="#000" >60</text>
<line x1="342.10" y1="911.30" x2="342.10" y2="917.80" stroke="#000" stroke-width="1.6" />
<text x="342.10" y="930.90" font-size="11" font-weight="bold" text-anchor="middle" fill="#000" >80</text>
<line x1="414.80" y1="911.30" x2="414.80" y2="917.80" stroke="#000" stroke-width="1.6" />
<text x="414.80" y="930.90" font-size="11" font-weight="bold" text-anchor="middle" fill="#000" >100</text>
<text x="51.30" y="930.90" font-size="11" font-weight="bold" text-anchor="middle" fill="#000" >0</text>
<text x="232.95" y="942.10" font-size="12.6" font-weight="bold" text-anchor="middle" fill="#000" >Mean depletion (%)</text>
<text transform="translate(19.7,834.35) rotate(-90)" font-size="12.6" font-weight="bold" text-anchor="middle">Relative error (%)</text>
<line x1="76.10" y1="776.70" x2="91.70" y2="776.70" stroke="#ff0000" stroke-width="1.6" />
<text x="101.80" y="781.40" font-size="12.7" font-weight="normal" text-anchor="start" fill="#000" >2 conc</text>
<line x1="166.80" y1="776.70" x2="183.50" y2="776.70" stroke="#00b400" stroke-width="1.6" />
<text x="192.80" y="781.40" font-size="12.7" font-weight="normal" text-anchor="start" fill="#000" >3 conc</text>
<text x="423.40" y="516.60" font-size="18.5" font-weight="bold" text-anchor="start" fill="#000" >f</text>
<line x1="470.40" y1="510.90" x2="470.40" y2="607.40" stroke="#000" stroke-width="1.8" />
<line x1="467.20" y1="607.40" x2="474.20" y2="607.40" stroke="#000" stroke-width="1.8" />
<line x1="470.40" y1="619.40" x2="470.40" y2="666.90" stroke="#000" stroke-width="1.8" />
<line x1="469.60" y1="666.10" x2="625.00" y2="666.10" stroke="#000" stroke-width="1.8" />
<line x1="463.80" y1="599.80" x2="470.40" y2="599.80" stroke="#000" stroke-width="1.6" />
<text x="461.60" y="604.00" font-size="11.0" font-weight="bold" text-anchor="end" fill="#000" >20</text>
<line x1="463.80" y1="570.40" x2="470.40" y2="570.40" stroke="#000" stroke-width="1.6" />
<text x="461.60" y="574.60" font-size="11.0" font-weight="bold" text-anchor="end" fill="#000" >60</text>
<line x1="463.80" y1="541.00" x2="470.40" y2="541.00" stroke="#000" stroke-width="1.6" />
<text x="461.60" y="545.20" font-size="11.0" font-weight="bold" text-anchor="end" fill="#000" >100</text>
<line x1="463.80" y1="511.60" x2="470.40" y2="511.60" stroke="#000" stroke-width="1.6" />
<text x="461.60" y="515.80" font-size="11.0" font-weight="bold" text-anchor="end" fill="#000" >140</text>
<line x1="463.80" y1="666.10" x2="470.40" y2="666.10" stroke="#000" stroke-width="1.6" />
<text x="461.60" y="670.30" font-size="11.0" font-weight="bold" text-anchor="end" fill="#000" >0</text>
<line x1="463.80" y1="642.75" x2="470.40" y2="642.75" stroke="#000" stroke-width="1.6" />
<text x="461.60" y="646.95" font-size="11.0" font-weight="bold" text-anchor="end" fill="#000" >5</text>
<line x1="467.10" y1="619.40" x2="473.90" y2="619.40" stroke="#000" stroke-width="1.8" />
<text x="461.60" y="623.60" font-size="11.0" font-weight="bold" text-anchor="end" fill="#000" >10</text>
<line x1="466.60" y1="654.43" x2="470.40" y2="654.43" stroke="#000" stroke-width="1.6" />
<line x1="466.60" y1="631.08" x2="470.40" y2="631.08" stroke="#000" stroke-width="1.6" />
<text transform="translate(439.7,588.4) rotate(-90)" font-size="12.6" font-weight="bold" text-anchor="middle">Relative error (%)</text>
<rect x="477.50" y="584.00" width="12.70" height="23.80" fill="#000" />
<rect x="477.50" y="619.10" width="12.70" height="47.00" fill="#000" />
<line x1="483.85" y1="566.06" x2="483.85" y2="584.00" stroke="#222" stroke-width="1.1" />
<line x1="480.35" y1="566.06" x2="487.35" y2="566.06" stroke="#222" stroke-width="1.1" />
<line x1="503.95" y1="647.42" x2="503.95" y2="660.96" stroke="#222" stroke-width="1.1" />
<line x1="500.55" y1="647.42" x2="507.35" y2="647.42" stroke="#222" stroke-width="1.1" />
<rect x="497.30" y="660.96" width="13.30" height="5.14" fill="#a0a0a5" />
<line x1="493.80" y1="666.10" x2="493.80" y2="672.40" stroke="#000" stroke-width="1.6" />
<rect x="530.90" y="580.32" width="12.70" height="27.48" fill="#000" />
<rect x="530.90" y="619.10" width="12.70" height="47.00" fill="#000" />
<line x1="537.25" y1="559.38" x2="537.25" y2="580.32" stroke="#222" stroke-width="1.1" />
<line x1="533.75" y1="559.38" x2="540.75" y2="559.38" stroke="#222" stroke-width="1.1" />
<line x1="557.35" y1="652.56" x2="557.35" y2="662.36" stroke="#222" stroke-width="1.1" />
<line x1="553.95" y1="652.56" x2="560.75" y2="652.56" stroke="#222" stroke-width="1.1" />
<rect x="550.70" y="662.36" width="13.30" height="3.74" fill="#a0a0a5" />
<line x1="547.20" y1="666.10" x2="547.20" y2="672.40" stroke="#000" stroke-width="1.6" />
<rect x="584.30" y="577.82" width="12.70" height="29.98" fill="#000" />
<rect x="584.30" y="619.10" width="12.70" height="47.00" fill="#000" />
<line x1="590.65" y1="539.60" x2="590.65" y2="577.82" stroke="#222" stroke-width="1.1" />
<line x1="587.15" y1="539.60" x2="594.15" y2="539.60" stroke="#222" stroke-width="1.1" />
<line x1="610.75" y1="638.55" x2="610.75" y2="657.23" stroke="#222" stroke-width="1.1" />
<line x1="607.35" y1="638.55" x2="614.15" y2="638.55" stroke="#222" stroke-width="1.1" />
<rect x="604.10" y="657.23" width="13.30" height="8.87" fill="#a0a0a5" />
<line x1="600.60" y1="666.10" x2="600.60" y2="672.40" stroke="#000" stroke-width="1.6" />
<text x="493.8" y="685.2" font-size="12.6" font-weight="bold" text-anchor="middle">k<tspan font-size="10" font-weight="normal" dy="3.3">a</tspan></text>
<text x="547.2" y="685.2" font-size="12.6" font-weight="bold" text-anchor="middle">k<tspan font-size="10" font-weight="normal" dy="3.3">d</tspan></text>
<text x="600.6" y="685.2" font-size="12.6" font-weight="bold" text-anchor="middle">K<tspan font-size="10" font-weight="normal" dy="3.3">D</tspan></text>
<rect x="481.20" y="514.90" width="17.30" height="8.10" fill="#000" />
<text x="508.00" y="523.20" font-size="12.5" font-weight="normal" text-anchor="start" fill="#000" >1:1</text>
<rect x="542.90" y="514.90" width="16.10" height="7.90" fill="#a0a0a5" />
<text x="569.30" y="523.20" font-size="12.5" font-weight="normal" text-anchor="start" fill="#000" >1:1 depl</text>
<text x="453.00" y="761.70" font-size="18.5" font-weight="bold" text-anchor="start" fill="#000" >h</text>
<line x1="499.90" y1="756.50" x2="499.90" y2="912.00" stroke="#000" stroke-width="1.8" />
<line x1="499.10" y1="911.30" x2="603.80" y2="911.30" stroke="#000" stroke-width="1.8" />
<line x1="493.30" y1="911.20" x2="499.90" y2="911.20" stroke="#000" stroke-width="1.6" />
<text x="491.50" y="914.90" font-size="11.0" font-weight="bold" text-anchor="end" fill="#000" >0</text>
<line x1="493.30" y1="880.40" x2="499.90" y2="880.40" stroke="#000" stroke-width="1.6" />
<text x="491.50" y="884.10" font-size="11.0" font-weight="bold" text-anchor="end" fill="#000" >5</text>
<line x1="493.30" y1="849.60" x2="499.90" y2="849.60" stroke="#000" stroke-width="1.6" />
<text x="491.50" y="853.30" font-size="11.0" font-weight="bold" text-anchor="end" fill="#000" >10</text>
<line x1="493.30" y1="818.80" x2="499.90" y2="818.80" stroke="#000" stroke-width="1.6" />
<text x="491.50" y="822.50" font-size="11.0" font-weight="bold" text-anchor="end" fill="#000" >15</text>
<line x1="493.30" y1="788.00" x2="499.90" y2="788.00" stroke="#000" stroke-width="1.6" />
<text x="491.50" y="791.70" font-size="11.0" font-weight="bold" text-anchor="end" fill="#000" >20</text>
<line x1="493.30" y1="757.20" x2="499.90" y2="757.20" stroke="#000" stroke-width="1.6" />
<text x="491.50" y="760.90" font-size="11.0" font-weight="bold" text-anchor="end" fill="#000" >25</text>
<text transform="translate(471.9,833.0) rotate(-90)" font-size="12.6" font-weight="bold" text-anchor="middle">Relative error (%)</text>
<line x1="529.60" y1="791.39" x2="529.60" y2="869.31" stroke="#222" stroke-width="1.1" />
<line x1="522.60" y1="791.39" x2="536.80" y2="791.39" stroke="#222" stroke-width="1.1" />
<rect x="515.10" y="869.31" width="28.80" height="41.99" fill="#000" />
<line x1="573.70" y1="886.56" x2="573.70" y2="903.19" stroke="#222" stroke-width="1.1" />
<line x1="566.60" y1="886.56" x2="580.60" y2="886.56" stroke="#222" stroke-width="1.1" />
<rect x="559.40" y="903.19" width="28.80" height="8.11" fill="#a0a0a5" />
<line x1="529.40" y1="911.30" x2="529.40" y2="917.50" stroke="#000" stroke-width="1.6" />
<line x1="573.50" y1="911.30" x2="573.50" y2="917.50" stroke="#000" stroke-width="1.6" />
<text x="529.30" y="930.00" font-size="11.3" font-weight="bold" text-anchor="middle" fill="#000" >2 conc</text>
<text x="573.50" y="930.00" font-size="11.3" font-weight="bold" text-anchor="middle" fill="#000" >3 conc</text>
</svg></body></html>
